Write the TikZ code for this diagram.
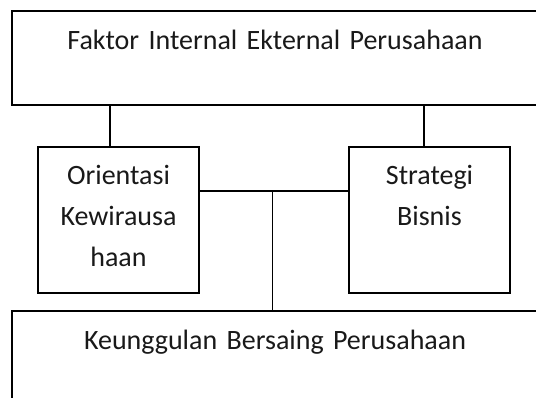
\documentclass[tikz,border=0pt]{standalone}
\usepackage{fontspec}
\setmainfont{Carlito}
\usetikzlibrary{positioning}

\tikzset{
  kotak/.style={draw, line width=1.8pt, anchor=north west, outer sep=0pt,
    inner xsep=0pt, inner ysep=0pt, align=center, text height=38pt},
  garis/.style={line width=1.8pt}
}

\begin{document}
\begin{tikzpicture}[x=1pt, y=-1pt, font=\fontsize{28}{41}\selectfont, text=black!90]
      %% \draw [help lines] (0,0) grid[step=50] (536,398);
      \clip (0,0) rectangle (536,398);

      \node [kotak, text width=526pt, text height=39pt, text depth=55pt] (faktor) at (12,11)
      {Faktor Internal Ekternal Perusahaan};

      \node [kotak, text width=161pt, text depth=108pt] (orientasi) at (38,147)
      {Orientasi\\Kewirausa\\haan};
      \node [kotak, text width=161pt, text depth=108pt] (strategi) at (349,147)
      {Strategi\\Bisnis};

      \node [kotak, text width=526pt, text depth=100pt] (keunggulan) at (12,311)
      {Keunggulan Bersaing Perusahaan};

      \draw [garis] ([xshift=-8.5pt]orientasi.north) -- ([xshift=-8.5pt]orientasi.north |- faktor.south);
      \draw [garis] ([xshift=-5.5pt]strategi.north) -- ([xshift=-5.5pt]strategi.north |- faktor.south);

      \draw [garis] ([yshift=-44pt]orientasi.north east) -- coordinate[pos=0.49] (tengah)
            ([yshift=-44pt]strategi.north west);
      \draw [garis] (tengah) -- (tengah |- keunggulan.north);

\end{tikzpicture}
\end{document}
